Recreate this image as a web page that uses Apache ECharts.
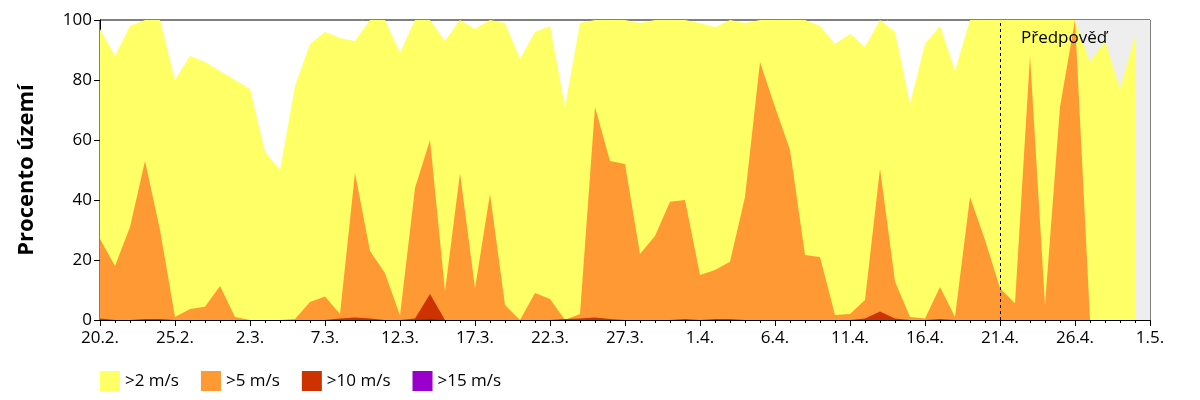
<!DOCTYPE html>
<html>
<head>
<meta charset="utf-8">
<script src="https://cdn.jsdelivr.net/npm/echarts@6/dist/echarts.min.js"></script>
<style>
  html, body { margin: 0; padding: 0; background: #fff; }
  #main { width: 1200px; height: 400px; }
</style>
</head>
<body>
<div id="main"></div>
<script>
// tick labels every 5 days, day 0 = 20.2.
const tickLabels = ['20.2.', '25.2.', '2.3.', '7.3.', '12.3.', '17.3.', '22.3.', '27.3.', '1.4.', '6.4.', '11.4.', '16.4.', '21.4.', '26.4.', '1.5.'];

// share of territory (%) per day
const over2 = [97, 88, 98, 100, 100, 80, 88, 86, 83, 80, 77, 56, 50, 78, 92, 96, 94, 93, 100, 100,
  89, 100, 100, 93, 100, 97, 100, 99, 87, 96, 98, 71, 99, 100, 100, 100, 99, 100, 100, 100,
  99, 97.6, 100, 99, 100, 100, 100, 100, 98, 92, 95.3, 91, 100, 96, 72, 92, 98, 83, 100, 100,
  100, 100, 100, 100, 100, 100, 86, 93, 77, 94.5];
const over5 = [27, 18, 31, 53, 30, 1, 3.7, 4.4, 11.3, 1, 0, 0, 0, 0.3, 6, 7.8, 2, 49, 23, 15.6,
  1.5, 44, 60, 9.5, 49, 10.6, 42, 5, 0, 9, 7, 0, 2, 71, 53, 52, 22, 28, 39.4, 40,
  15, 16.7, 19.4, 41, 86, 71, 56.7, 21.7, 21, 1.7, 2, 6.7, 50.5, 12.8, 1, 0.5, 11, 1, 41, 26.7,
  10.6, 5.6, 88, 5, 71, 100, 0];
const over10 = [0.5, 0, 0, 0.3, 0.3, 0, 0, 0, 0, 0, 0, 0, 0, 0, 0, 0, 0.5, 0.8, 0.5, 0,
  0, 0.5, 8.7, 0, 0, 0, 0, 0, 0, 0, 0, 0.3, 0.5, 0.8, 0.3, 0, 0, 0, 0, 0.3,
  0, 0.3, 0.3, 0, 0, 0, 0, 0, 0, 0, 0, 0.5, 2.8, 0.5, 0, 0, 0.3, 0, 0, 0,
  0, 0, 0, 0];
const over15 = [0, 0, 0, 0, 0, 0, 0, 0, 0, 0, 0, 0, 0, 0, 0, 0, 0, 0, 0, 0,
  0, 0, 0.3, 0];

const forecastStart = 60;
const greyStart = 65;

const toPoints = arr => arr.map((v, i) => [i, v]);

const areaSeries = (name, data, color) => ({
  name: name,
  type: 'line',
  data: toPoints(data),
  showSymbol: false,
  symbol: 'none',
  lineStyle: { width: 0 },
  itemStyle: { color: color },
  areaStyle: { color: color, opacity: 1 },
  animation: false
});

const myChart = echarts.init(document.getElementById('main'));
myChart.setOption({
  textStyle: { fontFamily: 'Open Sans' },
  grid: { left: 100, right: 50, top: 20, bottom: 80, show: true, borderColor: '#000', borderWidth: 1 },
  legend: {
    left: 95, bottom: 4,
    icon: 'rect', itemWidth: 20, itemHeight: 20, itemGap: 22,
    textStyle: { fontSize: 17, color: '#000' },
    data: ['>2 m/s', '>5 m/s', '>10 m/s', '>15 m/s']
  },
  xAxis: {
    type: 'value', min: 0, max: 70, interval: 5,
    axisLine: { lineStyle: { color: '#000' } },
    axisTick: { length: 6, lineStyle: { color: '#000' } },
    minorTick: { show: true, splitNumber: 5, length: 3, lineStyle: { color: '#000' } },
    splitLine: { show: false },
    axisLabel: { color: '#000', fontSize: 17, margin: 10, formatter: v => tickLabels[v / 5] }
  },
  yAxis: {
    type: 'value', min: 0, max: 100, interval: 20,
    name: 'Procento území', nameLocation: 'middle', nameGap: 62,
    nameTextStyle: { fontSize: 22, fontWeight: 'bold', color: '#000' },
    axisLine: { show: true, lineStyle: { color: '#000' } },
    axisTick: { show: true, length: 6, lineStyle: { color: '#000' } },
    splitLine: { show: false },
    axisLabel: { color: '#000', fontSize: 17 }
  },
  series: [
    Object.assign(areaSeries('>2 m/s', over2, '#ffff66'), {
      markArea: {
        silent: true,
        itemStyle: { color: '#eeeeee' },
        data: [[{ xAxis: greyStart }, { xAxis: 70 }]]
      },
      z: 1
    }),
    Object.assign(areaSeries('>5 m/s', over5, '#ff9933'), { z: 3 }),
    Object.assign(areaSeries('>10 m/s', over10, '#cc3300'), { z: 4 }),
    Object.assign(areaSeries('>15 m/s', over15, '#9900cc'), {
      z: 5,
      markLine: {
        silent: true, symbol: 'none',
        lineStyle: { color: '#000', type: [3, 3], width: 1 },
        label: { show: false },
        data: [{ xAxis: forecastStart }]
      }
    })
  ],
  graphic: [{
    type: 'text', left: 1021, top: 30, z: 100,
    style: { text: 'Předpověď', fontSize: 17, fill: '#000', fontFamily: 'Open Sans' }
  }]
});
</script>
</body>
</html>
